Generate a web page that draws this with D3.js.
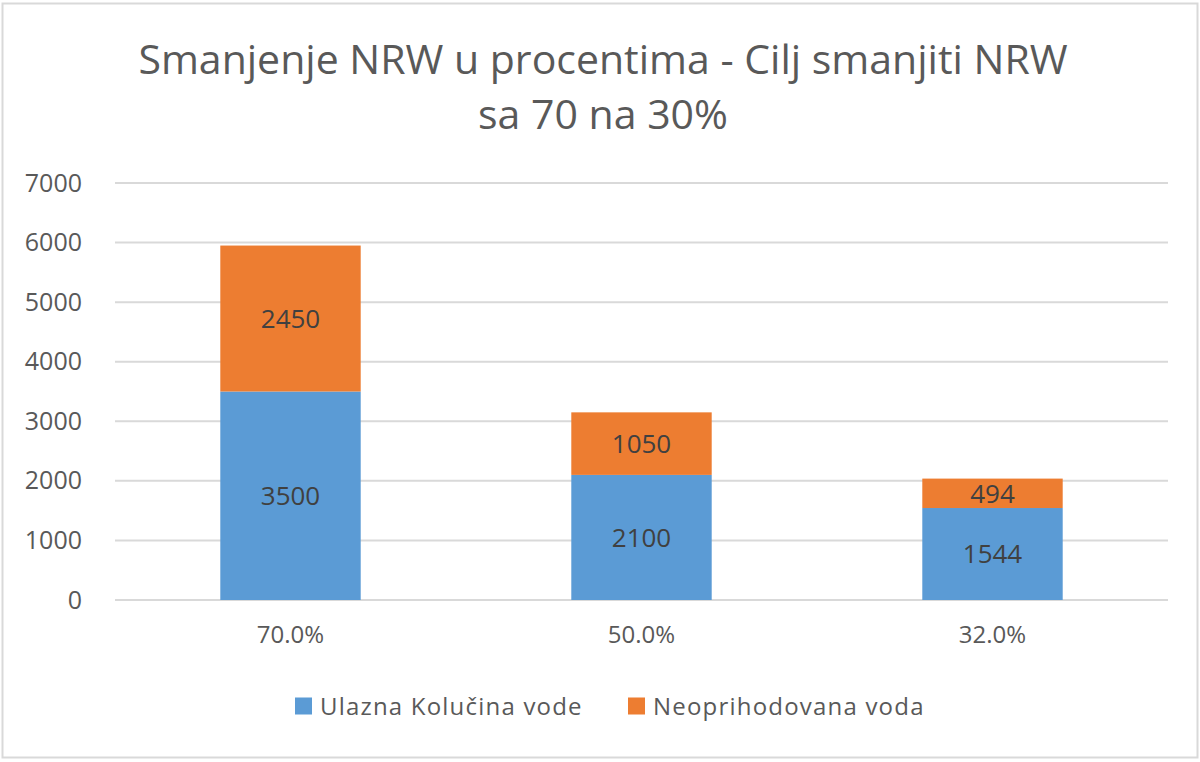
<!DOCTYPE html>
<html><head><meta charset="utf-8">
<script src="https://cdn.jsdelivr.net/npm/d3@7"></script>
<style>body{margin:0;background:#fff;}svg{display:block;font-family:"Open Sans",sans-serif;}</style>
</head><body><svg id="c" width="1200" height="762"></svg>
<script>
const categories = ["70.0%", "50.0%", "32.0%"];
const ulazna = [3500, 2100, 1544];
const neoprihodovana = [2450, 1050, 494];
const yTicks = [0, 1000, 2000, 3000, 4000, 5000, 6000, 7000];
const seriesNames = ["Ulazna Kolučina vode", "Neoprihodovana voda"];
const colors = ["#5B9BD5", "#ED7D31"];
const titleLines = ["Smanjenje NRW u procentima - Cilj smanjiti NRW", "sa 70 na 30%"];

const svg = d3.select("#c");
svg.append("rect").attr("x",2.5).attr("y",3.5).attr("width",1195).attr("height",754)
  .attr("fill","#fff").attr("stroke","#D9D9D9").attr("stroke-width",2);

const pLeft = 115, pRight = 1168, pTop = 183, pBottom = 600;
const x = d3.scaleBand().domain(categories).range([pLeft, pRight]).paddingInner(0.6).paddingOuter(0.3);
const y = d3.scaleLinear().domain([0, 7000]).range([pBottom, pTop]);

// title
svg.append("g").selectAll("text").data(titleLines).join("text")
  .attr("x", 603).attr("y", (d,i)=> 74 + i*55)
  .attr("text-anchor","middle").attr("fill","#595959")
  .attr("font-size", 41).text(d=>d);

// gridlines
svg.append("g").selectAll("line").data(yTicks).join("line")
  .attr("x1", pLeft).attr("x2", pRight).attr("y1", d=>y(d)).attr("y2", d=>y(d))
  .attr("stroke","#D9D9D9").attr("stroke-width",2);

// y axis labels
const ya = svg.append("g").attr("transform",`translate(${pLeft},0)`)
  .call(d3.axisLeft(y).tickValues(yTicks).tickSize(0).tickPadding(33).tickFormat(d3.format("d")));
ya.select(".domain").remove();
ya.selectAll("text").attr("font-size",25).attr("fill","#595959").attr("font-family","'Open Sans',sans-serif");

// x axis labels
const xa = svg.append("g").attr("transform",`translate(0,${pBottom})`)
  .call(d3.axisBottom(x).tickSize(0).tickPadding(26));
xa.select(".domain").remove();
xa.selectAll("text").attr("font-size",24).attr("fill","#595959").attr("font-family","'Open Sans',sans-serif");

// stacked data
const rows = categories.map((c,i)=>({cat:c, s0:ulazna[i], s1:neoprihodovana[i]}));
const stack = d3.stack().keys(["s0","s1"])(rows);

const g = svg.append("g");
stack.forEach((layer, li) => {
  g.append("g").selectAll("rect").data(layer).join("rect")
    .attr("x", d=>x(d.data.cat)).attr("width", x.bandwidth())
    .attr("y", d=>y(d[1])).attr("height", d=>y(d[0])-y(d[1]))
    .attr("fill", colors[li]);
  g.append("g").selectAll("text").data(layer).join("text")
    .attr("x", d=>x(d.data.cat)+x.bandwidth()/2)
    .attr("y", d=>(y(d[0])+y(d[1]))/2)
    .attr("dy","0.36em").attr("text-anchor","middle")
    .attr("font-size",26).attr("fill","#404040")
    .text(d=>d[1]-d[0]);
});

// legend
const legendX = [295, 628];
const lg = svg.append("g").selectAll("g").data(seriesNames).join("g")
  .attr("transform",(d,i)=>`translate(${legendX[i]},706)`);
lg.append("rect").attr("x",0).attr("y",-8.5).attr("width",17).attr("height",17).attr("fill",(d,i)=>colors[i]);
lg.append("text").attr("x",25).attr("dy","0.36em").attr("font-size",24).attr("letter-spacing",1.2)
  .attr("fill","#595959").text(d=>d);
</script></body></html>
